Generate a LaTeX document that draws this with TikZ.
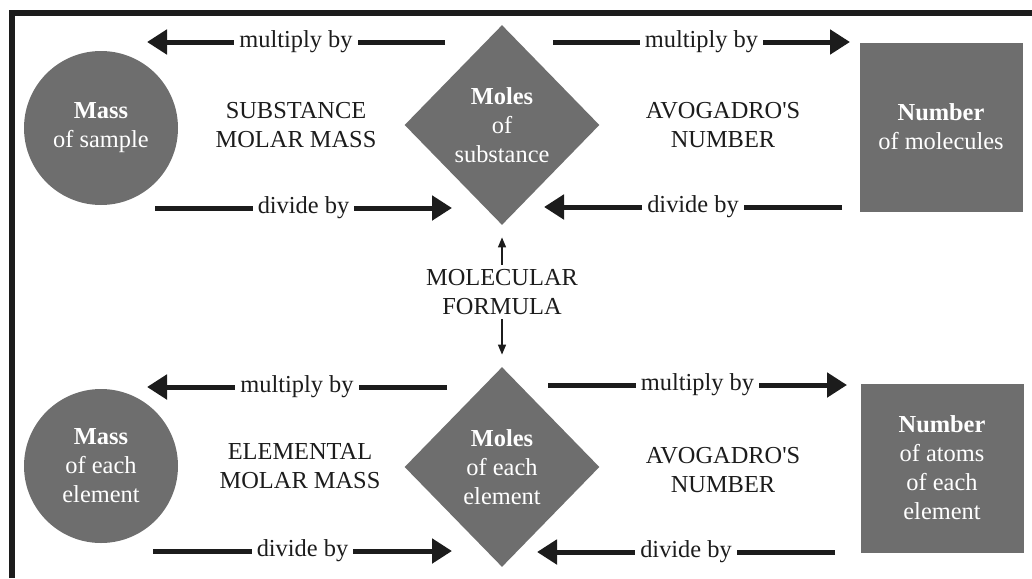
\documentclass[tikz,border=0pt]{standalone}
\usepackage{fontspec}
\setmainfont{Liberation Serif}
\usetikzlibrary{shapes.geometric,arrows.meta}
\definecolor{boxgray}{HTML}{6E6E6E}
\definecolor{ink}{HTML}{1C1C1C}
\begin{document}
\begin{tikzpicture}[x=0.5pt,y=-0.5pt]
  \tikzstyle{every node}=[font=\fontsize{12.2}{14.5}\selectfont, align=center, inner sep=0pt]
  \tikzstyle{massnode}=[circle, fill=boxgray, text=white, minimum size=77pt]
  \tikzstyle{molenode}=[diamond, fill=boxgray, text=white, minimum width=97.5pt, minimum height=100pt]
  \tikzstyle{numnode}=[rectangle, fill=boxgray, text=white, minimum width=81.5pt, minimum height=84.5pt]
  \tikzstyle{lbl}=[text=ink]
  \tikzstyle{onlink}=[fill=white, text=ink, inner xsep=2.5pt, inner ysep=1pt]
  \tikzstyle{bigarrow}=[draw=ink, line width=2.5pt, -{Triangle[length=10pt,width=12pt]}]
  \tikzstyle{smallarrow}=[draw=ink, line width=0.7pt, -{Triangle[length=5pt,width=4pt]}]

  \useasboundingbox (0,0) rectangle (1032,578);
  \draw[ink, line width=3pt] (12,578) -- (12,13) -- (1032,13);

  % upper row
  \path (101,128) node[massnode] (massA) {\textbf{Mass}\\of sample};
  \path (502,125) node[molenode] (molesA) {\textbf{Moles}\\of\\substance};
  \path (941,127) node[numnode] (numA) {\textbf{Number}\\of molecules};
  \path (296,125) node[lbl] (molarA) {SUBSTANCE\\MOLAR MASS};
  \path (723,125) node[lbl] (avoA) {AVOGADRO\textquotesingle S\\NUMBER};

  % lower row
  \path (101,466) node[massnode] (massB) {\textbf{Mass}\\of each\\element};
  \path (502,467) node[molenode] (molesB) {\textbf{Moles}\\of each\\element};
  \path (942,468) node[numnode] (numB) {\textbf{Number}\\of atoms\\of each\\element};
  \path (300,466) node[lbl] (molarB) {ELEMENTAL\\MOLAR MASS};
  \path (723,470) node[lbl] (avoB) {AVOGADRO\textquotesingle S\\NUMBER};

  \path (502,292) node[lbl] (formula) {MOLECULAR\\FORMULA};
  \draw[smallarrow, shorten <=2pt, shorten >=6pt] (formula.north) -- (molesA.south);
  \draw[smallarrow, shorten <=2pt, shorten >=6pt] (formula.south) -- (molesB.north);

  \foreach \i/\xa/\xb/\y/\t in {1/445/147/42/multiply by, 2/553/850/42/multiply by,
      3/155/452/208/divide by, 4/842/544/207/divide by,
      5/447/147/387/multiply by, 6/548/847/385/multiply by,
      7/153/452/551/divide by, 8/835/537/552/divide by}
  {
    \coordinate (a\i) at (\xa,\y);
    \coordinate (b\i) at (\xb,\y);
    \draw[bigarrow] (a\i) -- node[onlink] {\t} (b\i);
  }
\end{tikzpicture}
\end{document}
